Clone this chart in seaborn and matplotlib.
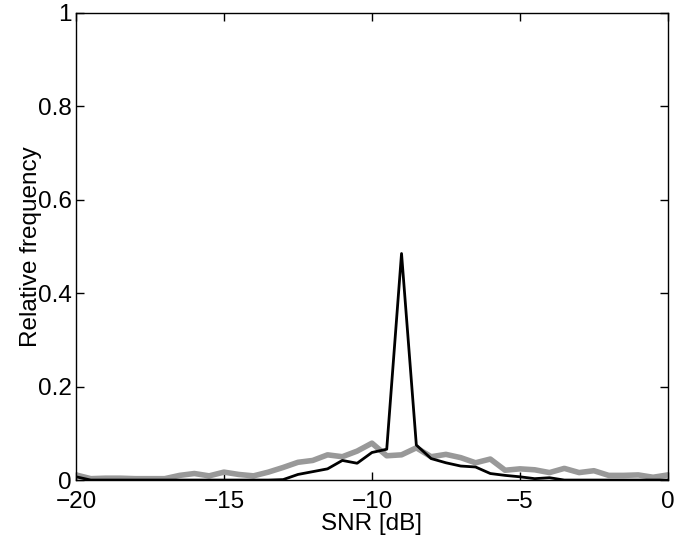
import numpy as np
import pandas as pd
import matplotlib.pyplot as plt
import seaborn as sns
from matplotlib.ticker import FuncFormatter

snr = np.arange(-20, 0.01, 0.5)

gray_freq = [0.011, 0.003, 0.004, 0.004, 0.003, 0.003, 0.003, 0.010, 0.014, 0.009,
             0.017, 0.012, 0.009, 0.017, 0.027, 0.038, 0.042, 0.054, 0.050, 0.062,
             0.079, 0.052, 0.054, 0.069, 0.050, 0.055, 0.048, 0.037, 0.045, 0.021,
             0.024, 0.022, 0.016, 0.025, 0.016, 0.020, 0.010, 0.010, 0.011, 0.006,
             0.011]
black_freq = [0.007, 0.0, 0.0, 0.0, 0.0, 0.0, 0.0, 0.0, 0.0, 0.0,
              0.0, 0.0, 0.0, 0.0, 0.001, 0.012, 0.018, 0.024, 0.042, 0.036,
              0.059, 0.066, 0.485, 0.075, 0.046, 0.037, 0.030, 0.028, 0.014, 0.010,
              0.007, 0.003, 0.005, 0.0, 0.0, 0.0, 0.0, 0.0, 0.0, 0.0,
              0.0]

data = pd.DataFrame({"SNR": snr, "gray": gray_freq, "black": black_freq})

sns.set_style("ticks")
plt.rcParams['font.family'] = ['Liberation Sans', 'DejaVu Sans']
plt.rcParams['text.color'] = 'black'
plt.rcParams['axes.labelcolor'] = 'black'
plt.rcParams['xtick.color'] = 'black'
plt.rcParams['ytick.color'] = 'black'

fig = plt.figure(figsize=(6.76, 5.4), dpi=100)
ax = fig.add_axes([0.1124, 0.111, 0.8756, 0.865])

sns.lineplot(x="SNR", y="gray", data=data, ax=ax, color="#999999", linewidth=4)
sns.lineplot(x="SNR", y="black", data=data, ax=ax, color="black", linewidth=2)

ax.set_xlim(-20, 0)
ax.set_ylim(0, 1)
ax.set_xticks([-20, -15, -10, -5, 0])
ax.set_yticks([0, 0.2, 0.4, 0.6, 0.8, 1])
ax.yaxis.set_major_formatter(FuncFormatter(lambda v, p: "%g" % v))
ax.xaxis.set_major_formatter(FuncFormatter(lambda v, p: ("%g" % v).replace("-", "\u2212")))
ax.tick_params(direction="in", length=6, width=1, labelsize=17.5, top=True, right=True,
               colors="black", pad=3)
ax.tick_params(axis="x", pad=8)
for s in ax.spines.values():
    s.set_linewidth(1)
    s.set_color("black")
ax.set_xlabel("SNR [dB]", fontsize=17.5, labelpad=0, color="black")
ax.set_ylabel("Relative frequency", fontsize=17.5, labelpad=-3, color="black")

fig.savefig("out.png", dpi=100)
